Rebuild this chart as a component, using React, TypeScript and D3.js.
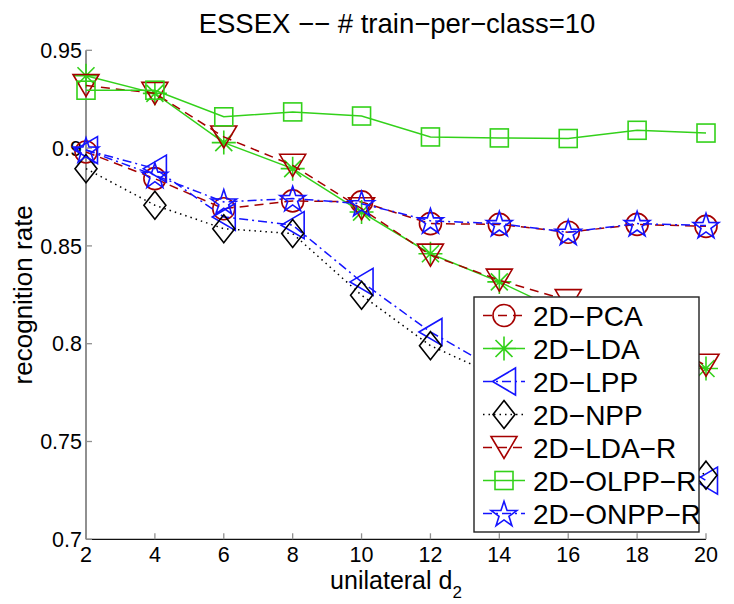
import React from 'react'
import * as d3 from 'd3'

// unilateral d2 values (x axis)
const d2Values = [2, 4, 6, 8, 10, 12, 14, 16, 18, 20]

const pca = [0.898, 0.8844, 0.869, 0.873, 0.8725, 0.8614, 0.861, 0.857, 0.861, 0.86]
const lda = [0.937, 0.928, 0.9028, 0.8895, 0.8673, 0.846, 0.8316, 0.815, 0.8, 0.7873]
const lpp = [0.899, 0.8895, 0.8648, 0.8606, 0.8316, 0.806, 0.786, 0.77, 0.752, 0.73]
const npp = [0.8895, 0.8708, 0.8588, 0.8563, 0.8248, 0.799, 0.783, 0.768, 0.752, 0.7328]
const ldaR = [0.932, 0.928, 0.9057, 0.8912, 0.869, 0.8453, 0.8325, 0.822, 0.806, 0.789]
const olppR = [0.9296, 0.9296, 0.916, 0.9185, 0.9164, 0.9057, 0.9052, 0.9049, 0.9091, 0.9077]
const onppR = [0.899, 0.8861, 0.8725, 0.8742, 0.8716, 0.8628, 0.8614, 0.857, 0.8614, 0.8604]

const yTicks = [0.7, 0.75, 0.8, 0.85, 0.9, 0.95]
const yTickLabels = ['0.7', '0.75', '0.8', '0.85', '0.9', '0.95']
const xTicks = [2, 4, 6, 8, 10, 12, 14, 16, 18, 20]

const RED = '#a50000'
const GREEN = '#33d11a'
const BLUE = '#1414ff'
const BLACK = '#000000'

const DASHED = '9,6'
const DASHDOT = '9,4,2,4'
const DOTTED = '1.5,4'

type Kind = 'o' | '*' | '<' | 'd' | 'v' | 's' | 'p'

interface Series {
  name: string
  values: number[]
  color: string
  dash: string | undefined
  marker: Kind
}

const series: Series[] = [
  { name: '2D\u2212PCA', values: pca, color: RED, dash: DASHED, marker: 'o' },
  { name: '2D\u2212LDA', values: lda, color: GREEN, dash: undefined, marker: '*' },
  { name: '2D\u2212LPP', values: lpp, color: BLUE, dash: DASHDOT, marker: '<' },
  { name: '2D\u2212NPP', values: npp, color: BLACK, dash: DOTTED, marker: 'd' },
  { name: '2D\u2212LDA\u2212R', values: ldaR, color: RED, dash: DASHED, marker: 'v' },
  { name: '2D\u2212OLPP\u2212R', values: olppR, color: GREEN, dash: undefined, marker: 's' },
  { name: '2D\u2212ONPP\u2212R', values: onppR, color: BLUE, dash: DASHDOT, marker: 'p' },
]

const FONT = '"Liberation Sans", Arial, Helvetica, sans-serif'

function starPoints(x: number, y: number, R: number, r: number) {
  const pts: string[] = []
  for (let i = 0; i < 10; i++) {
    const rad = i % 2 === 0 ? R : r
    const a = -Math.PI / 2 + (i * Math.PI) / 5
    pts.push(`${x + rad * Math.cos(a)},${y + rad * Math.sin(a)}`)
  }
  return pts.join(' ')
}

function Marker({ kind, x, y, color }: { kind: Kind; x: number; y: number; color: string }) {
  const common = { fill: 'none', stroke: color, strokeWidth: 1.6 }
  switch (kind) {
    case 'o':
      return <circle cx={x} cy={y} r={11} {...common} />
    case '*':
      return (
        <path
          d={`M${x - 12},${y}H${x + 12}M${x},${y - 12}V${y + 12}M${x - 8.5},${y - 8.5}L${x + 8.5},${y + 8.5}M${x - 8.5},${y + 8.5}L${x + 8.5},${y - 8.5}`}
          {...common}
        />
      )
    case '<':
      return <polygon points={`${x - 11.5},${y} ${x + 11.5},${y - 13.5} ${x + 11.5},${y + 13.5}`} {...common} />
    case 'd':
      return <polygon points={`${x},${y - 14} ${x + 11},${y} ${x},${y + 14} ${x - 11},${y}`} {...common} />
    case 'v':
      return <polygon points={`${x - 13},${y - 11} ${x + 13},${y - 11} ${x},${y + 11}`} {...common} />
    case 's':
      return <rect x={x - 9} y={y - 9} width={18} height={18} {...common} />
    case 'p':
      return <polygon points={starPoints(x, y + 1.2, 13.5, 5.2)} {...common} />
  }
}

export default function App() {
  const width = 734
  const height = 604

  const x = d3.scaleLinear().domain([2, 20]).range([86, 706])
  const y = d3.scaleLinear().domain([0.7, 0.95]).range([539.3, 50.3])

  const line = d3
    .line<number>()
    .x((_, i) => x(d2Values[i]))
    .y((d) => y(d))

  const legend = { x0: 474, y0: 297, x1: 699, y1: 532, row: 33, first: 315.5 }

  return (
    <svg
      width={width}
      height={height}
      style={{ position: 'absolute', left: 0, top: 0, background: '#fff' }}
      fontFamily={FONT}
    >
      <rect x={0} y={0} width={width} height={height} fill="#fff" />

      {/* title */}
      <text x={397} y={33} textAnchor="middle" fontSize={27.5} fill="#000">
        ESSEX {'\u2212\u2212'} # train{'\u2212'}per{'\u2212'}class=10
      </text>

      {/* axes */}
      <line x1={86} x2={86} y1={y(0.95)} y2={y(0.7)} stroke="#909090" strokeWidth={2} />
      <line x1={86} x2={706} y1={y(0.7)} y2={y(0.7)} stroke="#111" strokeWidth={1.3} />

      {yTicks.map((t, i) => (
        <g key={`y${t}`}>
          <line x1={86} x2={92} y1={y(t)} y2={y(t)} stroke="#909090" strokeWidth={1.3} />
          <text x={82} y={y(t)} dy="0.36em" textAnchor="end" fontSize={21.5} fill="#000">
            {yTickLabels[i]}
          </text>
        </g>
      ))}

      {xTicks.map((t) => (
        <g key={`x${t}`}>
          <line x1={x(t)} x2={x(t)} y1={y(0.7)} y2={y(0.7) - 6} stroke="#909090" strokeWidth={1.3} />
          <text x={x(t)} y={562} textAnchor="middle" fontSize={21.5} fill="#000">
            {t}
          </text>
        </g>
      ))}

      {/* axis labels */}
      <text x={396} y={589} textAnchor="middle" fontSize={25} fill="#000">
        unilateral d
        <tspan fontSize={17} dy={9}>
          2
        </tspan>
      </text>
      <text
        transform={`translate(32,${(y(0.95) + y(0.7)) / 2}) rotate(-90)`}
        textAnchor="middle"
        fontSize={26}
        fill="#000"
      >
        recognition rate
      </text>

      {/* series */}
      {series.map((s) => (
        <g key={s.name}>
          <path
            d={line(s.values) ?? ''}
            fill="none"
            stroke={s.color}
            strokeWidth={1.5}
            strokeDasharray={s.dash}
          />
          {s.values.map((v, i) => (
            <Marker key={i} kind={s.marker} x={x(d2Values[i])} y={y(v)} color={s.color} />
          ))}
        </g>
      ))}

      {/* legend */}
      <rect
        x={legend.x0}
        y={legend.y0}
        width={legend.x1 - legend.x0}
        height={legend.y1 - legend.y0}
        fill="#fff"
        stroke="#222"
        strokeWidth={1.4}
      />
      {series.map((s, i) => {
        const cy = legend.first + i * legend.row
        return (
          <g key={`lg${s.name}`}>
            <line
              x1={483}
              x2={525}
              y1={cy}
              y2={cy}
              stroke={s.color}
              strokeWidth={1.5}
              strokeDasharray={s.dash}
            />
            <Marker kind={s.marker} x={504} y={cy} color={s.color} />
            <text x={533} y={cy} dy="0.36em" fontSize={28} fill="#000">
              {s.name}
            </text>
          </g>
        )
      })}
    </svg>
  )
}
